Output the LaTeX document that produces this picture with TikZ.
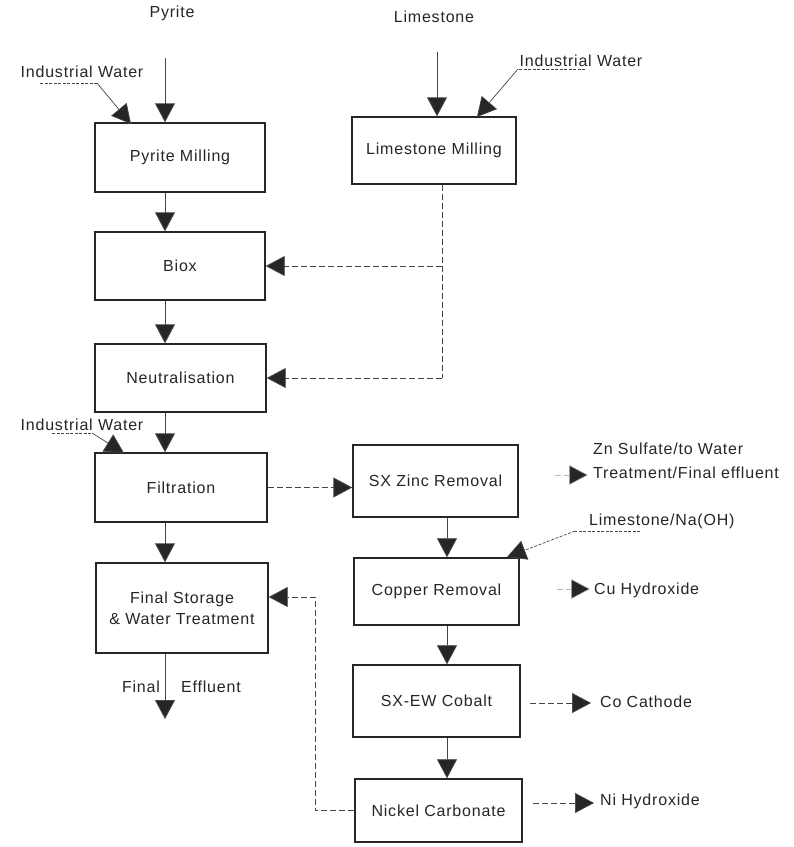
\documentclass[tikz,border=0pt]{standalone}
\usepackage{fontspec}
\setmainfont{Liberation Sans}[LetterSpace=5]
\usetikzlibrary{arrows.meta,calc}
\definecolor{ink}{HTML}{262626}
\definecolor{lnk}{HTML}{444444}
\begin{document}
\begin{tikzpicture}[x=1pt,y=-1pt,
  font=\fontsize{16}{19}\selectfont, text=ink,
  box/.style={draw=ink,line width=1.4pt,inner sep=0pt,align=center},
  lbl/.style={inner sep=0pt},
  arr/.style={draw=lnk,line width=0.9pt,-{Triangle[width=20pt,length=19pt,fill=ink]}},
  dsh/.style={arr,dash pattern=on 6pt off 3pt},
  lead/.style={draw=lnk,line width=0.7pt,-{Triangle[width=20pt,length=19pt,fill=ink]}},
  plainlead/.style={draw=lnk,line width=0.7pt,dash pattern=on 3pt off 1.5pt}]
\useasboundingbox (0,0) rectangle (794,847);
\fill[white] (0,0) rectangle (794,847);

% column coordinates
\coordinate (cL) at (165,0);
\coordinate (cLm) at (437,0);
\coordinate (cD) at (442,0);
\coordinate (cR) at (447,0);
\coordinate (cF) at (315,0);

% boxes
\node[box,minimum width=170pt,minimum height=69pt] (pm) at (180,157.5) {Pyrite Milling};
\node[box,minimum width=170pt,minimum height=68pt] (biox) at (180,266) {Biox};
\node[box,minimum width=171pt,minimum height=68pt] (neut) at (180.5,378) {Neutralisation};
\node[box,minimum width=172pt,minimum height=69pt] (filt) at (181,487.5) {Filtration};
\node[box,minimum width=172pt,minimum height=90pt] (fs) at (182,608) {Final Storage\\[2pt]\&\ Water Treatment};
\node[box,minimum width=164pt,minimum height=67pt] (lm) at (434,150.5) {Limestone Milling};
\node[box,minimum width=165pt,minimum height=72pt] (sxz) at (435.5,481) {SX Zinc Removal};
\node[box,minimum width=165pt,minimum height=67pt] (cu) at (436.5,591.5) {Copper Removal};
\node[box,minimum width=167pt,minimum height=72pt] (sxew) at (436.5,701) {SX-EW Cobalt};
\node[box,minimum width=167pt,minimum height=63pt] (ni) at (438.5,810.5) {Nickel Carbonate};

% labels
\node[lbl] (pyr) at (172,13) {Pyrite};
\node[lbl] (lim) at (434,17) {Limestone};
\node[lbl] (iw1) at (82,72) {Industrial Water};
\node[lbl] (iw2) at (581,61) {Industrial Water};
\node[lbl] (iw3) at (82,425) {Industrial Water};
\node[lbl,anchor=west,align=left,font=\fontsize{16}{24}\selectfont] (zn) at (593,461) {Zn Sulfate/to Water\\Treatment/Final effluent};
\node[lbl,anchor=west] (lna) at (589,521) {Limestone/Na(OH)};
\node[lbl,anchor=west] (cuh) at (594,590) {Cu Hydroxide};
\node[lbl,anchor=west] (coc) at (600,702) {Co Cathode};
\node[lbl,anchor=west] (nih) at (600,801) {Ni Hydroxide};
\node[lbl] (fin) at (141,687) {Final};
\node[lbl] (eff) at (211,687) {Effluent};

% free ends
\coordinate (pyrs) at (165,58);
\coordinate (lims) at (437,52);
\coordinate (fe) at (165,719);

% main column
\draw[arr] (pyrs) -- (pm.north -| cL);
\draw[arr] (pm.south -| cL) -- (biox.north -| cL);
\draw[arr] (biox.south -| cL) -- (neut.north -| cL);
\draw[arr] (neut.south -| cL) -- (filt.north -| cL);
\draw[arr] (filt.south -| cL) -- (fs.north -| cL);
\draw[arr] (fs.south -| cL) -- (fe);

% limestone
\draw[arr] (lims) -- (lm.north -| cLm);
\draw[dsh,-] (lm.south -| cD) -- (cD |- neut.east);
\draw[dsh] (cD |- biox.east) -- (biox.east);
\draw[dsh] (cD |- neut.east) -- (neut.east);

% right column
\draw[dsh] (filt.east) -- (filt.east -| sxz.west);
\draw[arr,line width=0.7pt] (sxz.south -| cR) -- (cu.north -| cR);
\draw[arr,line width=0.7pt] (cu.south -| cR) -- (sxew.north -| cR);
\draw[arr,line width=0.7pt] (sxew.south -| cR) -- (ni.north -| cR);

% feedback to final storage
\draw[dsh,line width=0.7pt] (ni.west) -- (ni.west -| cF) -- (cF |- 0,597) -- ($(fs.east)+(0,-11)$);

% outputs
\coordinate (znt) at (588,475);
\coordinate (cut) at (590,589);
\coordinate (cot) at (591,703);
\coordinate (nit) at (594,803);
\draw[dsh,draw=lnk!40,line width=0.6pt] (555,475) -- (znt);
\draw[dsh,draw=lnk!40,line width=0.6pt] (557,589) -- (cut);
\draw[dsh,line width=0.7pt] (530,703) -- (cot);
\draw[dsh,line width=0.7pt] (533,803) -- (nit);

% leaders
\draw[plainlead] (40,83) -- (97,83);
\draw[lead] (97,83) -- (131,124);
\draw[plainlead] (585,69) -- (518,69);
\draw[lead] (518,69) -- (477,117);
\draw[plainlead] (52,433) -- (92,433);
\draw[lead] (92,433) -- (124,453);
\draw[plainlead] (640,531) -- (575,531);
\draw[plainlead,-{Triangle[width=20pt,length=19pt,fill=ink]}] (575,531) -- (507,557);
\end{tikzpicture}
\end{document}
